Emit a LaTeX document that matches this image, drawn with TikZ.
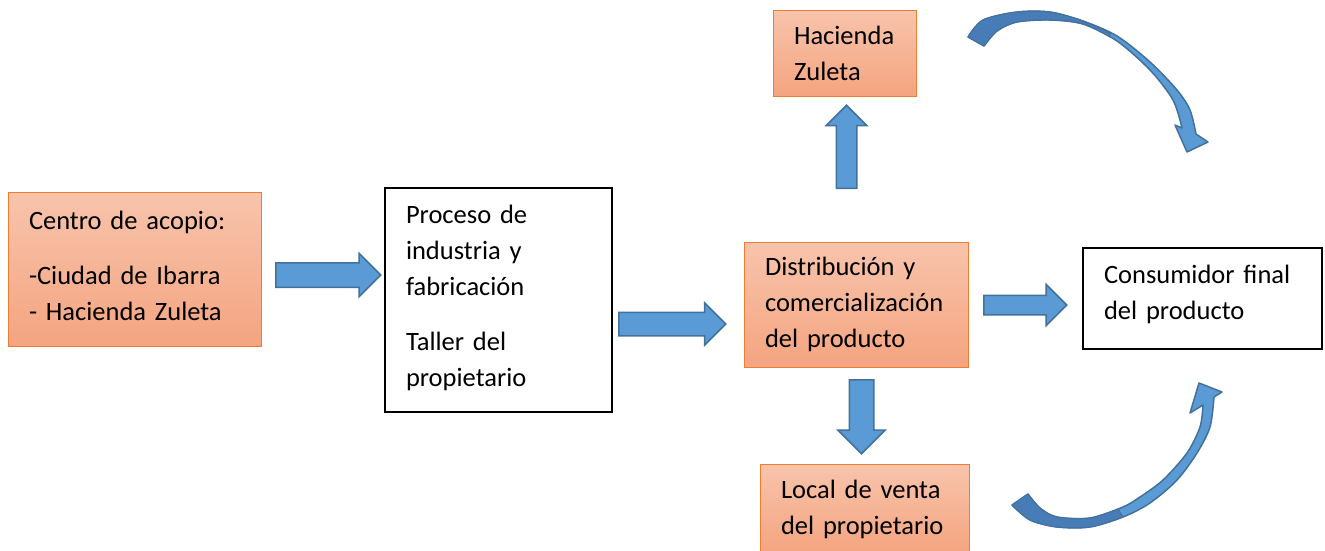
\documentclass[tikz,border=0pt]{standalone}
\usepackage{fontspec}
\setmainfont{Carlito}
\usetikzlibrary{shapes,shapes.arrows,positioning}
\definecolor{boxline}{RGB}{237,125,49}
\definecolor{boxtop}{RGB}{248,196,172}
\definecolor{boxbottom}{RGB}{244,164,128}
\definecolor{arrowblue}{RGB}{91,155,213}
\definecolor{arrowline}{RGB}{65,113,156}
\definecolor{arrowdark}{RGB}{72,124,182}
\hyphenpenalty=10000

\begin{document}
\begin{tikzpicture}[x=1pt, y=-1pt,
        every node/.style={font=\fontsize{26.5}{36}\selectfont},
        orangebox/.style={draw=boxline, line width=1pt, top color=boxtop, bottom color=boxbottom, align=left, inner xsep=21pt, inner ysep=0pt},
        whitebox/.style={draw=black, line width=1.5pt, fill=white, align=left, inner xsep=21pt, inner ysep=0pt},
        blockarrow/.style={single arrow, draw=arrowline, fill=arrowblue, line width=1.5pt, inner sep=0pt, single arrow tip angle=90, text depth=0pt, anchor=tail},
        curvedarrow/.style={fill=arrowblue, draw=arrowline, line width=1.5pt, line join=round}]
                \useasboundingbox (0, 0) rectangle (1325, 550);

                % --------
                % Boxes
                % --------
                \node[orangebox, text width=211pt, minimum height=154pt] at (134.5, 269) (centro) {Centro de acopio:\\[19pt]-Ciudad de Ibarra\\- Hacienda Zuleta\rule[-6pt]{0pt}{6pt}};
                
                \node[whitebox, text width=185pt, minimum height=224pt] at (498.5, 300) (proceso) {Proceso de\\industria y\\fabricación\\[19pt]Taller del\\propietario\rule[-9pt]{0pt}{9pt}};
                
                \node[orangebox, text width=182pt, minimum height=125pt] at (856, 304.5) (distribucion) {Distribución y\\comercialización\\del producto};
                \node[orangebox, text width=101pt, minimum height=86pt] at (844.5, 53) (hacienda) {Hacienda\\Zuleta};
                \node[orangebox, text width=167pt, minimum height=90pt] at (864.5, 509) (local) {Local de venta\\del propietario};
                
                \node[whitebox, text width=197pt, minimum height=101pt] at (1202.5, 298.5) (consumidor) {Consumidor final\\del producto\rule[-12pt]{0pt}{12pt}};
                
                % Block arrows
                \node[blockarrow, minimum height=105pt, text height=23pt, single arrow head extend=9.5pt] at (275, 275) (toProceso) {};
                \node[blockarrow, minimum height=107pt, text height=22pt, single arrow head extend=9.5pt] at (618, 324) (toDistribucion) {};
                \node[blockarrow, minimum height=83pt, text height=18pt, single arrow head extend=11pt] at (983, 305) (toConsumidor) {};
                \node[blockarrow, rotate=90, minimum height=83pt, text height=19pt, single arrow head extend=10pt] at (846.5, 189) (toHacienda) {};
                \node[blockarrow, rotate=-90, minimum height=74pt, text height=23pt, single arrow head extend=11.5pt] at (861.5, 379) (toLocal) {};
                
                % --------
                % Curved arrows
                % --------
                \filldraw[curvedarrow]
                    plot[smooth] coordinates {(968,37) (983,20) (1017,12) (1050,12) (1083,21) (1117,36) (1150,62) (1177,90) (1190,110) (1196,134)}
                    -- (1208,142) -- (1187,152) -- (1175,125)
                    -- plot[smooth] coordinates {(1182,128) (1173,100) (1150,70) (1117,41) (1083,24) (1050,20) (1017,22) (997,31) (984,46)}
                    -- cycle;
                \filldraw[curvedarrow, fill=arrowdark, line width=1pt]
                    plot[smooth] coordinates {(968,37) (983,20) (1017,12) (1050,12) (1083,21) (1110,33)}
                    -- plot[smooth] coordinates {(1110,37) (1083,24) (1050,20) (1017,22) (997,31) (984,46)}
                    -- cycle;
                
                \filldraw[curvedarrow]
                    plot[smooth] coordinates {(1012,505) (1030,520) (1057,527) (1090,527) (1123,517) (1150,503) (1177,480) (1197,453) (1210,427) (1214,397)}
                    -- (1222,392) -- (1199,383) -- (1190,413)
                    -- plot[smooth] coordinates {(1203,405) (1200,427) (1187,453) (1163,480) (1140,497) (1123,507) (1090,518) (1057,517) (1040,508) (1028,494)}
                    -- cycle;
                \filldraw[curvedarrow, fill=arrowdark, line width=1pt]
                    plot[smooth] coordinates {(1012,505) (1030,520) (1057,527) (1090,527) (1123,517)}
                    -- plot[smooth] coordinates {(1118,509) (1090,518) (1057,517) (1040,508) (1028,494)}
                    -- cycle;
                
            \end{tikzpicture}
\end{document}
